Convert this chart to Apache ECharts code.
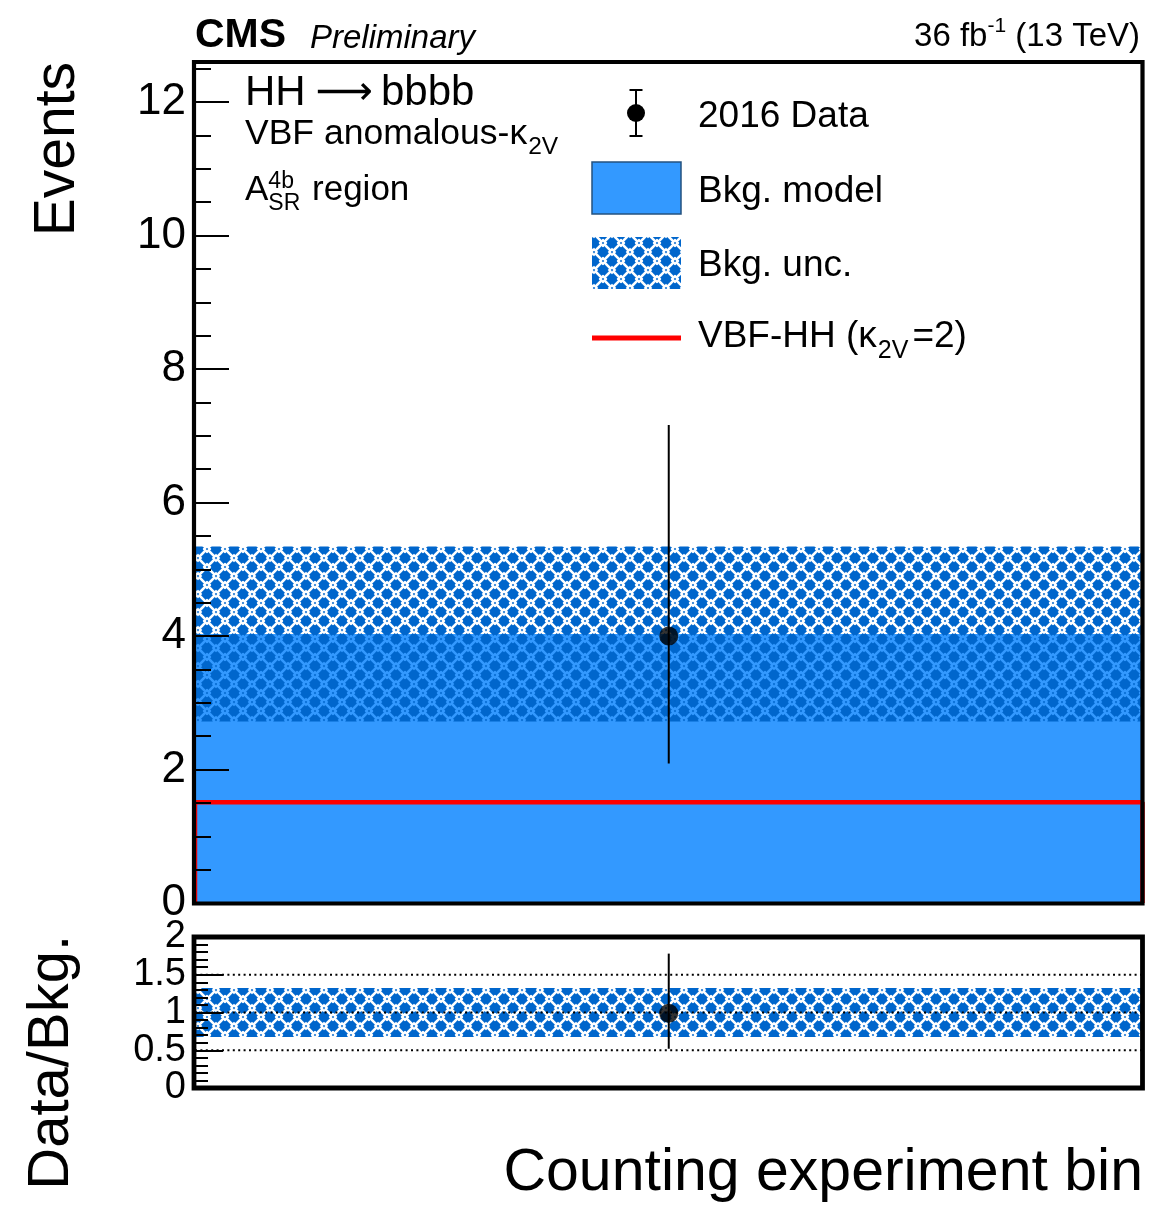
<!DOCTYPE html>
<html>
<head>
<meta charset="utf-8">
<script src="https://cdn.jsdelivr.net/npm/echarts@6/dist/echarts.min.js"></script>
<style>
  html, body { margin: 0; padding: 0; background: #ffffff; }
  #chart { width: 1158px; height: 1208px; }
</style>
</head>
<body>
<div id="chart"></div>
<script>
// ---- single counting-experiment bin ----
const binEdges = [0, 1];
const bkgModel = [4.03];
const bkgUncDown = [2.72];
const bkgUncUp = [5.34];
const signalK2V2 = [1.51];
const dataEvents = [4];
const dataErrDown = [2.09];
const dataErrUp = [7.16];

// ---- ratio panel ----
const ratioData = [0.99];
const ratioErrDown = [0.52];
const ratioErrUp = [1.78];
const ratioUncDown = [0.675];
const ratioUncUp = [1.325];
const ratioRefLines = [0.5, 1, 1.5];

// ---- axis ticks ----
const eventsTicks = [0, 2, 4, 6, 8, 10, 12];
const eventsMinorTicks = [0.5, 1, 1.5, 2.5, 3, 3.5, 4.5, 5, 5.5, 6.5, 7, 7.5, 8.5, 9, 9.5, 10.5, 11, 11.5, 12.5];
const ratioTicks = [0, 0.5, 1, 1.5, 2];
const ratioLabelsInt = [0, 1, 2];
const ratioLabelsHalf = [0.5, 1.5];
const ratioMinorTicks = [0.1, 0.2, 0.3, 0.4, 0.6, 0.7, 0.8, 0.9, 1.1, 1.2, 1.3, 1.4, 1.6, 1.7, 1.8, 1.9];

const FONT = '"Liberation Sans", Arial, Helvetica, sans-serif';
const BKG_FILL = '#3399ff';
const UNC_BLUE = '#0066cc';

// basket-weave hatch used for the background uncertainty:
// dark blue tile with "bone" shaped openings, alternating diagonal per cell
function weavePattern() {
  const cell = 9, s = 2 * cell;
  const c = document.createElement('canvas');
  c.width = s; c.height = s;
  const g = c.getContext('2d');
  g.fillStyle = UNC_BLUE;
  g.fillRect(0, 0, s, s);
  g.globalCompositeOperation = 'destination-out';
  g.strokeStyle = '#000';
  g.lineCap = 'butt';
  function seg(x1, y1, x2, y2, w) {
    g.lineWidth = w;
    g.beginPath(); g.moveTo(x1, y1); g.lineTo(x2, y2); g.stroke();
  }
  // cell (ox, oy), dir = +1 for "\" and -1 for "/"
  function bone(ox, oy, dir) {
    const a = 1.4, b = 7.6, k = 2.1, w = 2.6, wc = 2.2;
    if (dir > 0) {
      seg(ox + a, oy + a, ox + b, oy + b, w);
      seg(ox + a - k, oy + a + k, ox + a + k, oy + a - k, wc);
      seg(ox + b - k, oy + b + k, ox + b + k, oy + b - k, wc);
    } else {
      seg(ox + b, oy + a, ox + a, oy + b, w);
      seg(ox + b - k, oy + a - k, ox + b + k, oy + a + k, wc);
      seg(ox + a - k, oy + b - k, ox + a + k, oy + b + k, wc);
    }
  }
  bone(0, 0, 1);
  bone(cell, 0, -1);
  bone(0, cell, -1);
  bone(cell, cell, 1);
  return c;
}
const weave = { image: weavePattern(), repeat: 'repeat' };

// text helpers
const mctx = document.createElement('canvas').getContext('2d');
function fontStr(size, o) { return `${o.style || 'normal'} ${o.weight || 'normal'} ${size}px ${o.family || FONT}`; }
function measure(t, size, o = {}) { mctx.font = fontStr(size, o); return mctx.measureText(t).width; }
function textAt(t, x, base, size, o = {}) {
  const align = o.align || 'left';
  return {
    type: 'text', x: x, y: base - 0.3465 * size, z: 50, silent: true,
    style: {
      text: t, fill: '#000', font: fontStr(size, o),
      textAlign: align, align: align, textVerticalAlign: 'middle', verticalAlign: 'middle'
    }
  };
}
// a row of text runs (sub/superscripts) laid out left to right
function runs(x, base, parts, alignRight) {
  let total = 0;
  parts.forEach(p => { total += (p.gap || 0) + (p.stack ? 0 : measure(p.t, p.size, p)); });
  const out = [];
  let cx = alignRight ? x - total : x;
  parts.forEach(p => {
    cx += p.gap || 0;
    out.push(textAt(p.t, cx, base - (p.rise || 0), p.size, p));
    if (!p.stack) cx += measure(p.t, p.size, p);
  });
  return out;
}
function vText(t, baseX, topY, size) {
  return {
    type: 'text', x: baseX - 0.3465 * size, y: topY, rotation: Math.PI / 2, z: 50, silent: true,
    style: {
      text: t, fill: '#000', font: fontStr(size, {}),
      textAlign: 'right', align: 'right', textVerticalAlign: 'middle', verticalAlign: 'middle'
    }
  };
}

// series builders
function bandSeries(lo, hi, fill, xi, yi, z) {
  return {
    type: 'custom', xAxisIndex: xi, yAxisIndex: yi, z: z, silent: true, clip: true,
    data: lo.map((v, i) => [binEdges[i], binEdges[i + 1], v, hi[i]]),
    encode: { x: [0, 1], y: [2, 3] },
    renderItem: (params, api) => {
      const a = api.coord([api.value(0), api.value(3)]);
      const b = api.coord([api.value(1), api.value(2)]);
      return { type: 'rect', shape: { x: a[0], y: a[1], width: b[0] - a[0], height: b[1] - a[1] }, style: { fill: fill } };
    }
  };
}
function errorSeries(center, lo, hi, xi, yi, z) {
  return {
    type: 'custom', xAxisIndex: xi, yAxisIndex: yi, z: z, silent: true,
    data: center.map((v, i) => [(binEdges[i] + binEdges[i + 1]) / 2, lo[i], hi[i]]),
    encode: { x: 0, y: [1, 2] },
    renderItem: (params, api) => {
      const a = api.coord([api.value(0), api.value(1)]);
      const b = api.coord([api.value(0), api.value(2)]);
      return { type: 'line', shape: { x1: a[0], y1: a[1], x2: b[0], y2: b[1] }, style: { stroke: '#000', lineWidth: 2 } };
    }
  };
}
function pointSeries(vals, xi, yi) {
  return {
    type: 'scatter', xAxisIndex: xi, yAxisIndex: yi, z: 6, silent: true,
    symbol: 'circle', symbolSize: 19, itemStyle: { color: '#000' },
    data: vals.map((v, i) => [(binEdges[i] + binEdges[i + 1]) / 2, v])
  };
}
function refLineSeries(vals, xi, yi) {
  return {
    type: 'custom', xAxisIndex: xi, yAxisIndex: yi, z: 3, silent: true,
    data: vals.map(v => [binEdges[0], binEdges[binEdges.length - 1], v]),
    encode: { x: [0, 1], y: 2 },
    renderItem: (params, api) => {
      const a = api.coord([api.value(0), api.value(2)]);
      const b = api.coord([api.value(1), api.value(2)]);
      return { type: 'line', shape: { x1: a[0], y1: a[1], x2: b[0], y2: b[1] }, style: { stroke: '#000', lineWidth: 2, lineDash: [2, 3.4] } };
    }
  };
}
// histogram outline for the signal
const signalOutline = [[binEdges[0], 0]];
signalK2V2.forEach((v, i) => { signalOutline.push([binEdges[i], v], [binEdges[i + 1], v]); });
signalOutline.push([binEdges[binEdges.length - 1], 0]);

// y axis carrying ticks and/or labels (several may share one side)
function yAxisPart(grid, max, ticks, len, labels, fontSize) {
  return {
    gridIndex: grid, type: 'value', min: 0, max: max, position: 'left', z: 10,
    axisLine: { show: false }, splitLine: { show: false },
    axisTick: ticks ? { show: true, inside: true, length: len, customValues: ticks, lineStyle: { color: '#000', width: 2 } } : { show: false },
    axisLabel: labels ? { show: true, customValues: labels, inside: false, margin: 9, hideOverlap: false,
      showMinLabel: true, showMaxLabel: true,
      fontFamily: FONT, fontSize: fontSize, color: '#000' } : { show: false }
  };
}

const G1 = { left: 195, top: 62, width: 947.5, height: 841 };
const G2 = { left: 195, top: 937, width: 947.5, height: 151 };
const ARROW_FONT = '"DejaVu Sans", sans-serif';

const graphics = [
  // frames
  { type: 'rect', z: 40, silent: true, shape: { x: 194, y: 62, width: 948.5, height: 841.5 }, style: { fill: 'none', stroke: '#000', lineWidth: 4.2 } },
  { type: 'rect', z: 40, silent: true, shape: { x: 194, y: 937, width: 948.5, height: 151 }, style: { fill: 'none', stroke: '#000', lineWidth: 4.8 } },
  // header
  textAt('CMS', 195, 50, 41, { weight: 'bold' }),
  textAt('Preliminary', 310, 50, 33, { style: 'italic' }),
  ...runs(1140, 48.5, [{ t: '36 fb', size: 33 }, { t: '-1', size: 21, rise: 15 }, { t: ' (13 TeV)', size: 33 }], true),
  // region labels
  ...runs(245, 108, [{ t: 'HH', size: 42 }, { t: '\u27f6', size: 40, family: ARROW_FONT, gap: 10, rise: 1 }, { t: 'bbbb', size: 42, gap: 8 }]),
  ...runs(245, 147, [{ t: 'VBF anomalous-\u03ba', size: 35.5 }, { t: '2V', size: 24.5, rise: -9, gap: 1 }]),
  ...runs(245, 202, [{ t: 'A', size: 35 }, { t: '4b', size: 23, rise: 12, stack: true }, { t: 'SR', size: 23, rise: -10 }, { t: ' region', size: 35, gap: 2 }]),
  // legend
  { type: 'line', z: 45, silent: true, shape: { x1: 636, y1: 90, x2: 636, y2: 136 }, style: { stroke: '#000', lineWidth: 2 } },
  { type: 'line', z: 45, silent: true, shape: { x1: 629.5, y1: 90, x2: 642.5, y2: 90 }, style: { stroke: '#000', lineWidth: 2 } },
  { type: 'line', z: 45, silent: true, shape: { x1: 629.5, y1: 136, x2: 642.5, y2: 136 }, style: { stroke: '#000', lineWidth: 2 } },
  { type: 'circle', z: 46, silent: true, shape: { cx: 636, cy: 113, r: 9 }, style: { fill: '#000' } },
  textAt('2016 Data', 698, 130, 37),
  { type: 'rect', z: 45, silent: true, shape: { x: 592, y: 162, width: 89, height: 52 }, style: { fill: BKG_FILL, stroke: '#24527f', lineWidth: 1.5 } },
  textAt('Bkg. model', 698, 205, 37),
  { type: 'rect', z: 45, silent: true, shape: { x: 592, y: 237, width: 89, height: 52 }, style: { fill: weave } },
  textAt('Bkg. unc.', 698, 278.5, 37),
  { type: 'line', z: 45, silent: true, shape: { x1: 592, y1: 338, x2: 681, y2: 338 }, style: { stroke: '#ff0000', lineWidth: 5 } },
  ...runs(698, 350, [{ t: 'VBF-HH (\u03ba', size: 37 }, { t: '2V', size: 25, rise: -10, gap: 1 }, { t: '=2)', size: 37, gap: 4 }]),
  // axis titles
  vText('Events', 78, 62, 57),
  vText('Data/Bkg.', 72, 935, 58),
  textAt('Counting experiment bin', 1143, 1194, 59, { align: 'right' })
];

const option = {
  animation: false,
  backgroundColor: '#ffffff',
  grid: [Object.assign({ show: false, outerBoundsMode: 'none' }, G1), Object.assign({ show: false, outerBoundsMode: 'none' }, G2)],
  xAxis: [0, 1].map(i => ({
    gridIndex: i, type: 'value', min: binEdges[0], max: binEdges[binEdges.length - 1], show: false
  })),
  yAxis: [
    yAxisPart(0, 12.6, eventsTicks, 34, eventsTicks, 44),
    yAxisPart(0, 12.6, eventsMinorTicks, 16, null),
    yAxisPart(1, 2, ratioTicks, 28, ratioLabelsInt, 38),
    yAxisPart(1, 2, ratioMinorTicks, 13, null),
    yAxisPart(1, 2, null, 0, ratioLabelsHalf, 38)
  ],
  series: [
    bandSeries(binEdges.slice(1).map(() => 0), bkgModel, BKG_FILL, 0, 0, 1),
    bandSeries(bkgUncDown, bkgUncUp, weave, 0, 0, 2),
    {
      type: 'line', xAxisIndex: 0, yAxisIndex: 0, z: 4, silent: true,
      data: signalOutline, symbol: 'none', lineStyle: { color: '#ff0000', width: 4.5 }
    },
    errorSeries(dataEvents, dataErrDown, dataErrUp, 0, 0, 5),
    pointSeries(dataEvents, 0, 0),
    bandSeries(ratioUncDown, ratioUncUp, weave, 1, 2, 1),
    refLineSeries(ratioRefLines, 1, 2),
    errorSeries(ratioData, ratioErrDown, ratioErrUp, 1, 2, 5),
    pointSeries(ratioData, 1, 2)
  ],
  graphic: { elements: graphics }
};

const chart = echarts.init(document.getElementById('chart'), null, { renderer: 'canvas' });
chart.setOption(option);
</script>
</body>
</html>
